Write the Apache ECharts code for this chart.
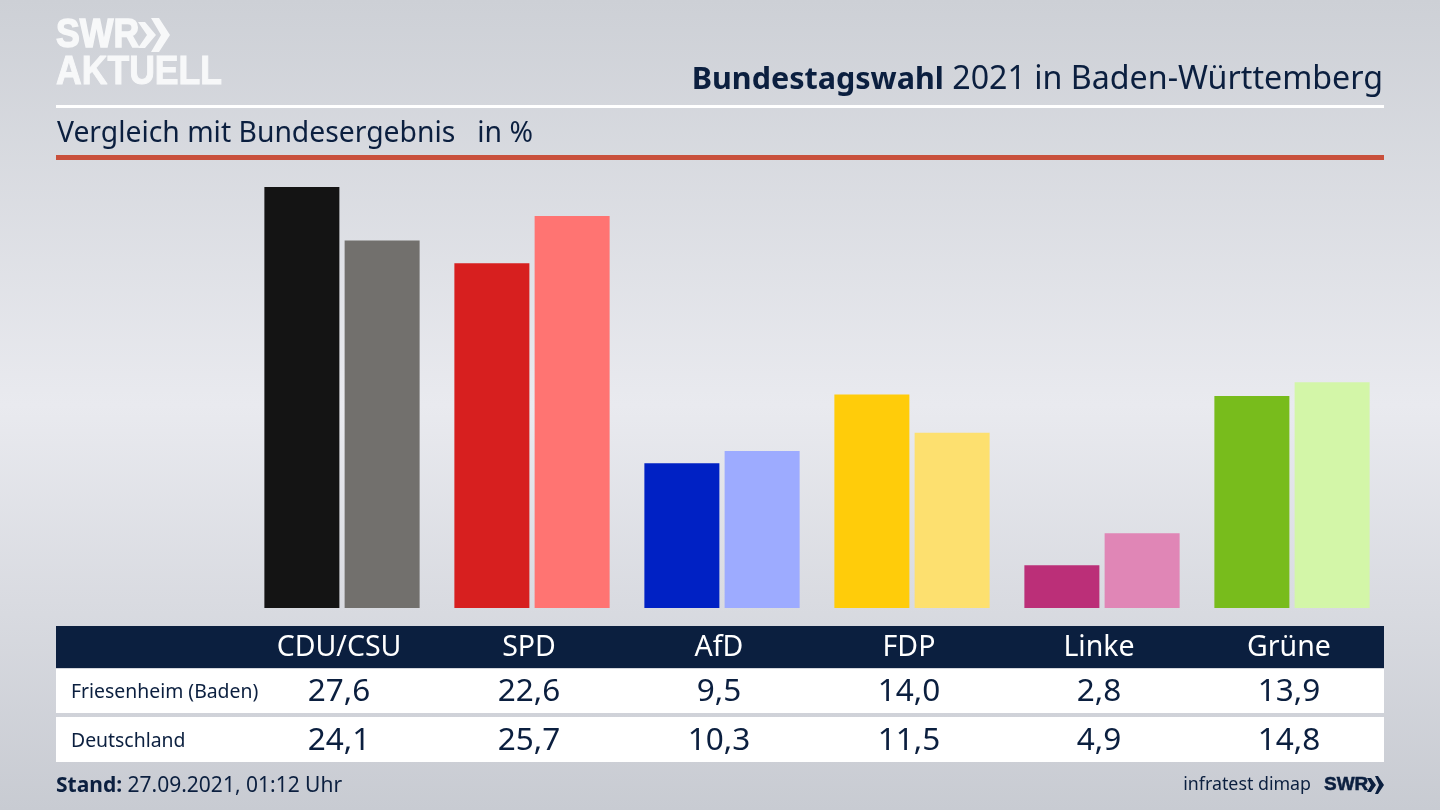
<!DOCTYPE html>
<html>
<head>
<meta charset="utf-8">
<script src="https://cdn.jsdelivr.net/npm/echarts@6/dist/echarts.min.js"></script>
<style>
html, body { margin: 0; padding: 0; }
#main { width: 1440px; height: 810px; }
</style>
</head>
<body>
<div id="main"></div>
<script>
var parties = ['CDU/CSU', 'SPD', 'AfD', 'FDP', 'Linke', 'Grüne'];
var friesenheim = [27.6, 22.6, 9.5, 14.0, 2.8, 13.9];
var deutschland = [24.1, 25.7, 10.3, 11.5, 4.9, 14.8];
var rowNames = ['Friesenheim (Baden)', 'Deutschland'];
var darkColors = ['#141414', '#d71f1f', '#0021c4', '#ffcc0a', '#bb2f78', '#78bc1c'];
var lightColors = ['#72706d', '#ff7472', '#9dabff', '#fde06f', '#e086b6', '#d3f6a8'];

var FONT = '"Noto Sans", sans-serif';
var NAVY = '#0b1f3f';
var LOGO = '#f7f8f9';

function fmt(v) {
  return v.toFixed(1).replace('.', ',');
}

function barData(values, colors) {
  return values.map(function (v, i) {
    return { value: v, itemStyle: { color: colors[i] } };
  });
}

var chart = echarts.init(document.getElementById('main'));

chart.setOption({
  animation: false,
  backgroundColor: {
    type: 'linear', x: 0, y: 0, x2: 0, y2: 1,
    colorStops: [
      { offset: 0, color: '#cdd0d6' },
      { offset: 0.5, color: '#e9eaef' },
      { offset: 1, color: '#c8cbd2' }
    ]
  },
  grid: { left: 247, top: 181, width: 1140, height: 427 },
  xAxis: {
    type: 'category',
    data: parties,
    axisLine: { show: false },
    axisTick: { show: false },
    axisLabel: {
      margin: 25,
      color: '#ffffff',
      fontFamily: FONT,
      fontSize: 28.5,
      padding: [0, 6, 0, 0]
    }
  },
  yAxis: { type: 'value', min: 0, max: 28, show: false },
  series: [
    { type: 'bar', data: barData(friesenheim, darkColors), barWidth: 75, barGap: '7%' },
    { type: 'bar', data: barData(deutschland, lightColors), barWidth: 75 }
  ]
});

// Tabelle und Kopf, x-Positionen kommen von der Achse
var els = [
  { type: 'rect', shape: { x: 56, y: 105, width: 1328, height: 3 }, style: { fill: '#ffffff' } },
  { type: 'rect', shape: { x: 56, y: 155, width: 1328, height: 5 }, style: { fill: '#c9503c' } },
  { type: 'rect', shape: { x: 56, y: 626, width: 1328, height: 42 }, style: { fill: NAVY } },
  { type: 'rect', shape: { x: 56, y: 669, width: 1328, height: 44 }, style: { fill: '#ffffff' } },
  { type: 'rect', shape: { x: 56, y: 717, width: 1328, height: 45 }, style: { fill: '#ffffff' } },
  // Logo
  { type: 'text', x: 56, y: 36, scaleX: 0.87, style: { text: 'SWR', fill: LOGO, stroke: LOGO, lineWidth: 1.5, font: 'bold 41px "Liberation Sans"', verticalAlign: 'middle' } },
  { type: 'text', x: 56, y: 73, scaleX: 0.89, style: { text: 'AKTUELL', fill: LOGO, stroke: LOGO, lineWidth: 1, font: 'bold 40px "Liberation Sans"', verticalAlign: 'middle' } },
  { type: 'polygon', shape: { points: [[138, 22], [145, 22], [156, 35], [145, 48], [138, 48], [147, 35]] }, style: { fill: LOGO } },
  { type: 'polygon', shape: { points: [[151, 18], [159, 18], [170, 35], [159, 52], [151, 52], [161, 35]] }, style: { fill: LOGO } },
  // Titel
  { type: 'text', x: 1383, y: 80, style: {
    text: '{b|Bundestagswahl} 2021 in Baden-Württemberg',
    rich: { b: { fontWeight: 'bold', fontSize: 30.5, fontFamily: FONT, color: NAVY } },
    fill: NAVY, font: '32.2px ' + FONT, align: 'right', verticalAlign: 'middle'
  } },
  { type: 'text', x: 57, y: 134, style: { text: 'Vergleich mit Bundesergebnis   in %', fill: NAVY, font: '28.3px ' + FONT, verticalAlign: 'middle' } },
  // Fuss
  { type: 'text', x: 56, y: 786, style: {
    text: '{b|Stand:} 27.09.2021, 01:12 Uhr',
    rich: { b: { fontWeight: 'bold', fontSize: 21, fontFamily: FONT, color: NAVY } },
    fill: NAVY, font: '21px ' + FONT, verticalAlign: 'middle'
  } },
  { type: 'text', x: 1311, y: 785, style: { text: 'infratest dimap', fill: NAVY, font: '17.8px ' + FONT, align: 'right', verticalAlign: 'middle' } },
  { type: 'text', x: 1324, y: 785, style: { text: 'SWR', fill: NAVY, stroke: NAVY, lineWidth: 0.5, font: 'bold 19px "Liberation Sans"', verticalAlign: 'middle' } },
  { type: 'polygon', shape: { points: [[1367, 778], [1371, 778], [1376, 785], [1371, 792], [1367, 792], [1371, 785]] }, style: { fill: NAVY } },
  { type: 'polygon', shape: { points: [[1375, 776], [1378, 776], [1384, 785], [1378, 794], [1375, 794], [1379, 785]] }, style: { fill: NAVY } },
  // Zeilennamen
  { type: 'text', x: 71, y: 692, style: { text: rowNames[0], fill: NAVY, font: '19.4px ' + FONT, verticalAlign: 'middle' } },
  { type: 'text', x: 71, y: 741, style: { text: rowNames[1], fill: NAVY, font: '19.4px ' + FONT, verticalAlign: 'middle' } }
];

parties.forEach(function (p, i) {
  var x = chart.convertToPixel({ xAxisIndex: 0 }, p) - 3;
  els.push({ type: 'text', x: x, y: 692, style: { text: fmt(friesenheim[i]), fill: NAVY, font: '31.5px ' + FONT, align: 'center', verticalAlign: 'middle' } });
  els.push({ type: 'text', x: x, y: 741, style: { text: fmt(deutschland[i]), fill: NAVY, font: '31.5px ' + FONT, align: 'center', verticalAlign: 'middle' } });
});

els.forEach(function (el) { el.z = -1; });
chart.setOption({ graphic: { elements: els } });
</script>
</body>
</html>
